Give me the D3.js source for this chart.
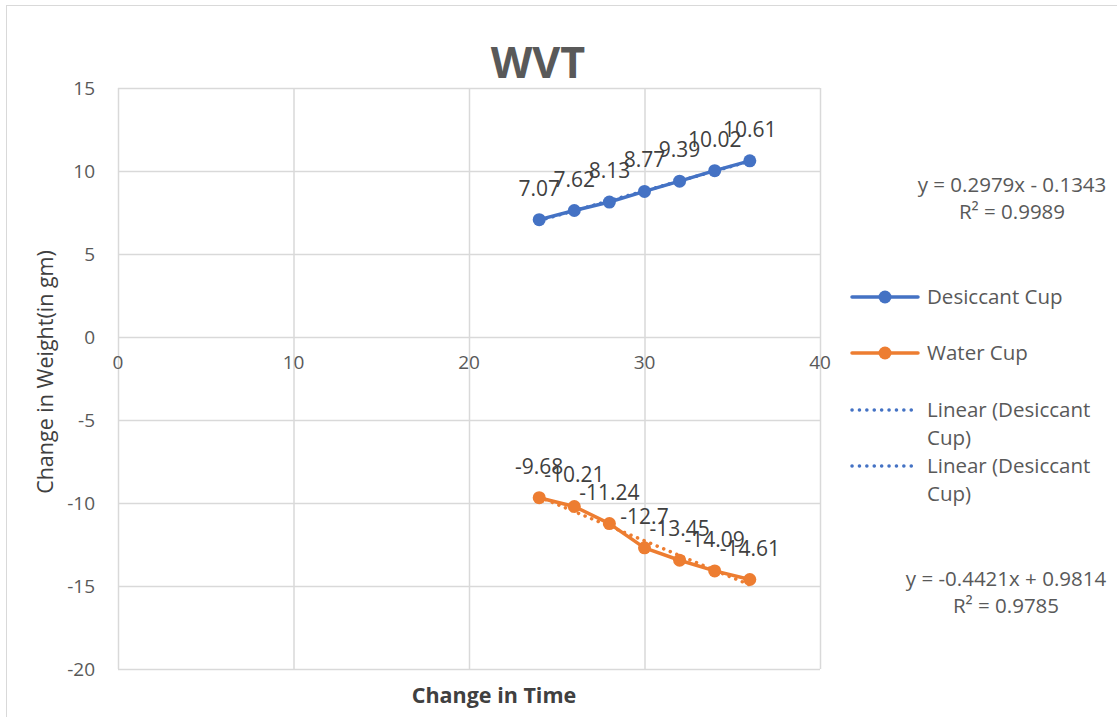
<!DOCTYPE html>
<html>
<head>
<meta charset="utf-8">
<script src="https://cdn.jsdelivr.net/npm/d3@7"></script>
<style>
  body { margin: 0; background: #fff; }
  svg { display: block; font-family: "Open Sans", sans-serif; }
</style>
</head>
<body>
<svg id="chart" width="1117" height="717"></svg>
<script>
// data
const times = [24, 26, 28, 30, 32, 34, 36];
const desiccant = [7.07, 7.62, 8.13, 8.77, 9.39, 10.02, 10.61];
const water = [-9.68, -10.21, -11.24, -12.7, -13.45, -14.09, -14.61];
const xTicks = [0, 10, 20, 30, 40];
const yTicks = [15, 10, 5, 0, -5, -10, -15, -20];
const trendDesiccant = { slope: 0.2979, intercept: -0.1343, eq: "y = 0.2979x - 0.1343", r2: "R² = 0.9989" };
const trendWater = { slope: -0.4421, intercept: 0.9814, eq: "y = -0.4421x + 0.9814", r2: "R² = 0.9785" };

const blue = "#4472C4", orange = "#ED7D31", grid = "#D9D9D9", txt = "#595959";

const svg = d3.select("#chart");

svg.append("rect")
    .attr("x", 6.5).attr("y", 5.5)
    .attr("width", 1130).attr("height", 730)
    .attr("fill", "none").attr("stroke", grid);

const x = d3.scaleLinear().domain([0, 40]).range([118, 820]);
const y = d3.scaleLinear().domain([-20, 15]).range([669, 88]);

// grid
svg.append("g").selectAll("line").data(yTicks).enter().append("line")
    .attr("x1", x(0)).attr("x2", x(40))
    .attr("y1", d => y(d) + 0.5).attr("y2", d => y(d) + 0.5)
    .attr("stroke", grid).attr("stroke-width", 1.5);
svg.append("g").selectAll("line").data(xTicks).enter().append("line")
    .attr("y1", y(15)).attr("y2", y(-20))
    .attr("x1", d => x(d) + 0.5).attr("x2", d => x(d) + 0.5)
    .attr("stroke", grid).attr("stroke-width", 1.5);

// tick labels
svg.append("g").selectAll("text").data(yTicks).enter().append("text")
    .attr("x", 95).attr("y", d => y(d))
    .attr("dy", "0.35em").attr("text-anchor", "end")
    .attr("fill", txt).attr("font-size", 19)
    .text(d => d);
svg.append("g").selectAll("text").data(xTicks).enter().append("text")
    .attr("x", d => x(d)).attr("y", y(0) + 32)
    .attr("text-anchor", "middle")
    .attr("fill", txt).attr("font-size", 19)
    .text(d => d);

// titles
svg.append("text").attr("x", 538).attr("y", 78)
    .attr("text-anchor", "middle").attr("font-size", 43).attr("font-weight", "bold")
    .attr("fill", txt).text("WVT");
svg.append("text").attr("x", 494).attr("y", 703)
    .attr("text-anchor", "middle").attr("font-size", 21.5).attr("font-weight", "bold")
    .attr("fill", "#404040").text("Change in Time");
svg.append("text")
    .attr("transform", "translate(53,372) rotate(-90)")
    .attr("text-anchor", "middle").attr("font-size", 21.5)
    .attr("fill", "#404040").text("Change in Weight(in gm)");

// trendlines
function drawTrend(t, color) {
    const xs = [d3.min(times), d3.max(times)];
    svg.append("line")
        .attr("x1", x(xs[0])).attr("y1", y(t.slope * xs[0] + t.intercept))
        .attr("x2", x(xs[1])).attr("y2", y(t.slope * xs[1] + t.intercept))
        .attr("stroke", color).attr("stroke-width", 3.5)
        .attr("stroke-dasharray", "0.1 7").attr("stroke-linecap", "round");
}
drawTrend(trendDesiccant, blue);
drawTrend(trendWater, orange);

// series
const line = d3.line().x(d => x(d[0])).y(d => y(d[1]));
function drawSeries(vals, color) {
    const pts = times.map((t, i) => [t, vals[i]]);
    svg.append("path").datum(pts).attr("d", line)
        .attr("fill", "none").attr("stroke", color).attr("stroke-width", 3.5)
        .attr("stroke-linejoin", "round");
    svg.append("g").selectAll("circle").data(pts).enter().append("circle")
        .attr("cx", d => x(d[0])).attr("cy", d => y(d[1])).attr("r", 6.5)
        .attr("fill", color);
    svg.append("g").selectAll("text").data(pts).enter().append("text")
        .attr("x", d => x(d[0])).attr("y", d => y(d[1]) - 24)
        .attr("text-anchor", "middle").attr("font-size", 21)
        .attr("fill", "#404040")
        .text(d => d[1]);
}
drawSeries(desiccant, blue);
drawSeries(water, orange);

// trend equations
function eqText(t, cx, cy) {
    const g = svg.append("text").attr("text-anchor", "middle")
        .attr("font-size", 20.5).attr("fill", txt);
    g.append("tspan").attr("x", cx).attr("y", cy).text(t.eq);
    g.append("tspan").attr("x", cx).attr("y", cy + 27).text(t.r2);
}
eqText(trendDesiccant, 1012, 192);
eqText(trendWater, 1006, 586);

// legend
const legend = [
    { label: ["Desiccant Cup"], color: blue, dot: true, y: 297 },
    { label: ["Water Cup"], color: orange, dot: true, y: 353 },
    { label: ["Linear (Desiccant", "Cup)"], color: blue, dot: false, y: 410 },
    { label: ["Linear (Desiccant", "Cup)"], color: blue, dot: false, y: 466 }
];
const lg = svg.append("g").selectAll("g").data(legend).enter().append("g");
lg.append("line")
    .attr("x1", 852).attr("x2", 918)
    .attr("y1", d => d.y).attr("y2", d => d.y)
    .attr("stroke", d => d.color)
    .attr("stroke-width", d => d.dot ? 3.5 : 3.5)
    .attr("stroke-dasharray", d => d.dot ? null : "0.1 7.3")
    .attr("stroke-linecap", "round");
lg.filter(d => d.dot).append("circle")
    .attr("cx", 885).attr("cy", d => d.y).attr("r", 6.5)
    .attr("fill", d => d.color);
lg.each(function (d) {
    const t = d3.select(this).append("text")
        .attr("font-size", 20.5).attr("fill", txt);
    d.label.forEach((s, i) => {
        t.append("tspan").attr("x", 927).attr("y", d.y + 7 + i * 28).text(s);
    });
});
</script>
</body>
</html>
